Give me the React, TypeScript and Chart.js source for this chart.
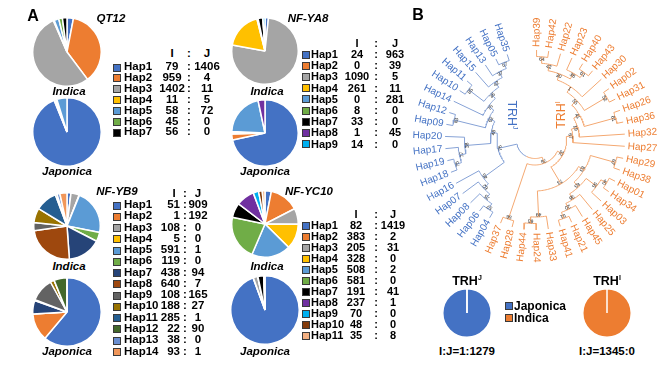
import React, { useEffect, useRef } from "react";
import { Chart, registerables } from "chart.js";
Chart.register(...registerables);

// ---------------- DATA ----------------
const officeColors = ["#4472C4", "#ED7D31", "#A5A5A5", "#FFC000", "#5B9BD5", "#70AD47"];

const qt12Haps = ["Hap1", "Hap2", "Hap3", "Hap4", "Hap5", "Hap6", "Hap7"];
const qt12Indica = [79, 959, 1402, 11, 58, 45, 56];
const qt12Japonica = [1406, 4, 11, 5, 72, 0, 0];
const qt12Colors = [...officeColors, "#000000"];

const ya8Haps = ["Hap1", "Hap2", "Hap3", "Hap4", "Hap5", "Hap6", "Hap7", "Hap8", "Hap9"];
const ya8Indica = [24, 0, 1090, 261, 0, 8, 33, 1, 14];
const ya8Japonica = [963, 39, 5, 11, 281, 0, 0, 45, 0];
const ya8Colors = [...officeColors, "#000000", "#7030A0", "#00B0F0"];

const yb9Haps = ["Hap1", "Hap2", "Hap3", "Hap4", "Hap5", "Hap6", "Hap7", "Hap8", "Hap9", "Hap10", "Hap11", "Hap12", "Hap13", "Hap14"];
const yb9Indica = [51, 1, 108, 5, 591, 119, 438, 640, 108, 188, 285, 22, 38, 93];
const yb9Japonica = [909, 192, 0, 0, 1, 0, 94, 7, 165, 27, 1, 90, 0, 1];
const yb9Colors = [...officeColors, "#264478", "#9E480E", "#636363", "#997300", "#255E91", "#43682B", "#698ED0", "#F1975A"];

const yc10Haps = ["Hap1", "Hap2", "Hap3", "Hap4", "Hap5", "Hap6", "Hap7", "Hap8", "Hap9", "Hap10", "Hap11"];
const yc10Indica = [82, 383, 205, 328, 508, 581, 191, 237, 70, 48, 35];
const yc10Japonica = [1419, 2, 31, 0, 2, 0, 41, 1, 0, 0, 8];
const yc10Colors = [...officeColors, "#000000", "#7030A0", "#00B0F0", "#843C0C", "#F4B183"];

const trhGroups = ["Japonica", "Indica"];
const trhColors = ["#4472C4", "#ED7D31"];
const trhJValues = [1279, 1];
const trhIValues = [0, 1345];

// phylogeny (clockwise leaf order), bootstrap values as node labels
const orangeNewick =
  "((((((((((Hap39,Hap42)64,Hap22)42,(Hap23,(Hap40,Hap43)61)38)30,Hap30)1,(Hap02,Hap31)52)55,(Hap26,Hap36)61)41,Hap32)19,Hap27)67," +
  "(((Hap29,Hap38)67,(((Hap01,Hap34)40,Hap03)55,(Hap25,(Hap45,(Hap21,Hap41)51)20)36)63)83,(Hap33,(Hap24,Hap44)63)49)73)32,(Hap28,Hap37)56)78";
const blueNewick =
  "(((((Hap04,Hap06)57,Hap08)75,Hap07)62,Hap16)45,((((Hap18,Hap19)75,Hap17)77,Hap20)38," +
  "((Hap09,Hap12)63,(Hap14,((Hap10,Hap11)85,(Hap15,(Hap13,(Hap05,Hap35)57)37)42)35)76)62)48)76";
const treeNewick = "(" + orangeNewick + "," + blueNewick + ");";
const blueLeaves = ["Hap04", "Hap06", "Hap08", "Hap07", "Hap16", "Hap18", "Hap19", "Hap17", "Hap20", "Hap09", "Hap12", "Hap14", "Hap10", "Hap11", "Hap15", "Hap13", "Hap05", "Hap35"];

// ---------------- STYLE ----------------
const FONT = '"Liberation Sans", Arial, sans-serif';
const BLUE_TXT = "#4472C4";
const ORANGE_TXT = "#ED7D31";
const BLUE_LINE = "#86A2D6";
const ORANGE_LINE = "#F4A871";

// ---------------- TREE ----------------
type TNode = { name: string; label: string; children: TNode[]; angle: number; r: number; h: number; blue: boolean };

function parseNewick(s: string): TNode {
  let i = 0;
  const parse = (): TNode => {
    const node: TNode = { name: "", label: "", children: [], angle: 0, r: 0, h: 0, blue: false };
    if (s[i] === "(") {
      i++;
      node.children.push(parse());
      while (s[i] === ",") {
        i++;
        node.children.push(parse());
      }
      i++;
    }
    let tok = "";
    while (i < s.length && !",();".includes(s[i])) tok += s[i++];
    if (node.children.length) node.label = tok;
    else node.name = tok;
    return node;
  };
  return parse();
}

const LEAF_R = 90;
const STEP_H = 6.5;
const START_DEG = -89;
const END_DEG = 252;

function layoutTree() {
  const root = parseNewick(treeNewick);
  const leaves: TNode[] = [];
  const collect = (n: TNode) => {
    if (!n.children.length) leaves.push(n);
    n.children.forEach(collect);
  };
  collect(root);
  const stepDeg = (END_DEG - START_DEG) / (leaves.length - 1);
  leaves.forEach((l, k) => {
    l.angle = ((START_DEG + k * stepDeg) * Math.PI) / 180;
    l.blue = blueLeaves.includes(l.name);
  });
  const post = (n: TNode) => {
    if (!n.children.length) {
      n.h = 0;
      return;
    }
    n.children.forEach(post);
    n.h = 1 + Math.max(...n.children.map((c) => c.h));
    n.angle = (n.children[0].angle + n.children[n.children.length - 1].angle) / 2;
    n.blue = n.children.every((c) => c.blue);
  };
  post(root);
  const setR = (n: TNode) => {
    n.r = LEAF_R - STEP_H * n.h;
    n.children.forEach(setR);
  };
  setR(root);
  const segments: { pts: { x: number; y: number }[]; blue: boolean }[] = [];
  const internals: TNode[] = [];
  const walk = (n: TNode) => {
    if (n.children.length && n.label) internals.push(n);
    for (const c of n.children) {
      const pts: { x: number; y: number }[] = [];
      const steps = Math.max(2, Math.ceil(Math.abs(c.angle - n.angle) / 0.03));
      for (let s = 0; s <= steps; s++) {
        const a = n.angle + ((c.angle - n.angle) * s) / steps;
        pts.push({ x: n.r * Math.cos(a), y: n.r * Math.sin(a) });
      }
      pts.push({ x: c.r * Math.cos(c.angle), y: c.r * Math.sin(c.angle) });
      segments.push({ pts, blue: c.blue });
      walk(c);
    }
  };
  walk(root);
  return { leaves, segments, internals };
}

function TreeChart() {
  const ref = useRef<HTMLCanvasElement>(null);
  useEffect(() => {
    const { leaves, segments, internals } = layoutTree();
    const plugin = {
      id: "treeText",
      afterDatasetsDraw(chart: any) {
        const ctx = chart.ctx;
        const xs = chart.scales.x;
        const ys = chart.scales.y;
        ctx.save();
        ctx.textBaseline = "middle";
        for (const l of leaves) {
          const rr = LEAF_R + 3;
          const px = xs.getPixelForValue(rr * Math.cos(l.angle));
          const py = ys.getPixelForValue(rr * Math.sin(l.angle));
          const right = Math.cos(l.angle) >= 0;
          ctx.save();
          ctx.translate(px, py);
          ctx.rotate(right ? l.angle : l.angle + Math.PI);
          ctx.textAlign = right ? "left" : "right";
          ctx.font = `10px ${FONT}`;
          ctx.fillStyle = l.blue ? BLUE_TXT : ORANGE_TXT;
          ctx.fillText(l.name, 0, 0);
          ctx.restore();
        }
        for (const n of internals) {
          const rr = n.r - 2.5;
          const px = xs.getPixelForValue(rr * Math.cos(n.angle));
          const py = ys.getPixelForValue(rr * Math.sin(n.angle));
          ctx.save();
          ctx.translate(px, py);
          ctx.rotate(n.angle + Math.PI / 2);
          ctx.textAlign = "center";
          ctx.font = `5px ${FONT}`;
          ctx.fillStyle = "#222";
          ctx.fillText(n.label, 0, 0);
          ctx.restore();
        }
        ctx.restore();
      },
    };
    const chart = new Chart(ref.current!, {
      type: "scatter",
      data: {
        datasets: segments.map((s) => ({
          data: s.pts,
          showLine: true,
          borderColor: s.blue ? BLUE_LINE : ORANGE_LINE,
          borderWidth: 1,
          pointRadius: 0,
          fill: false,
        })),
      },
      options: {
        responsive: false,
        animation: false,
        events: [],
        layout: { padding: 0 },
        plugins: { legend: { display: false }, tooltip: { enabled: false } },
        scales: {
          x: { type: "linear", min: -155, max: 125, display: false },
          y: { type: "linear", min: -140, max: 145, reverse: true, display: false },
        },
      },
      plugins: [plugin],
    } as any);
    return () => chart.destroy();
  }, []);
  return <canvas ref={ref} width={280} height={285} style={{ position: "absolute", left: 380, top: 0, width: 280, height: 285 }} />;
}

// ---------------- PIES ----------------
function Pie({ cx, cy, r, values, colors, labels }: { cx: number; cy: number; r: number; values: number[]; colors: string[]; labels: string[] }) {
  const ref = useRef<HTMLCanvasElement>(null);
  useEffect(() => {
    const chart = new Chart(ref.current!, {
      type: "pie",
      data: {
        labels,
        datasets: [{ data: values, backgroundColor: colors, borderColor: "#ffffff", borderWidth: 1.5, hoverOffset: 0 }],
      },
      options: {
        responsive: false,
        animation: false,
        events: [],
        layout: { padding: 0 },
        plugins: { legend: { display: false }, tooltip: { enabled: false } },
      },
    } as any);
    return () => chart.destroy();
  }, []);
  return <canvas ref={ref} width={2 * r} height={2 * r} style={{ position: "absolute", left: cx - r, top: cy - r, width: 2 * r, height: 2 * r }} />;
}

// ---------------- TEXT ----------------
function T({ x, y, children, align = "center", style = {} }: any) {
  const tx = align === "center" ? "-50%" : align === "right" ? "-100%" : "0";
  return (
    <div
      style={{
        position: "absolute",
        left: x,
        top: y,
        transform: `translate(${tx}, -50%)`,
        whiteSpace: "nowrap",
        lineHeight: 1,
        fontFamily: FONT,
        fontWeight: "bold",
        fontSize: 11.5,
        color: "#000",
        ...style,
      }}
    >
      {children}
    </div>
  );
}

function Legend({ haps, colors, I, J, sqX, hapX, iX, iAlign = "center", colonX, jX, headerY, y0, dy, fs = 11.5 }: any) {
  const st = { fontSize: fs };
  return (
    <>
      <T x={iX - (iAlign === "right" ? 6 : 0)} y={headerY} style={st}>I</T>
      <T x={colonX} y={headerY} style={st}>:</T>
      <T x={jX} y={headerY} style={st}>J</T>
      {haps.map((h: string, k: number) => {
        const y = y0 + k * dy;
        return (
          <React.Fragment key={h}>
            <div style={{ position: "absolute", left: sqX, top: y - 3.5, width: 6, height: 6, background: colors[k], border: "1px solid #3a3a3a" }} />
            <T x={hapX} y={y} align="left" style={st}>{h}</T>
            <T x={iX} y={y} align={iAlign} style={st}>{I[k]}</T>
            <T x={colonX} y={y} style={st}>:</T>
            <T x={jX} y={y} style={st}>{J[k]}</T>
          </React.Fragment>
        );
      })}
    </>
  );
}

const it = { fontStyle: "italic" };

export default function App() {
  return (
    <div style={{ position: "fixed", left: 0, top: 0, width: 660, height: 375, background: "#fff", overflow: "hidden" }}>
      {/* Panel A pies */}
      <Pie cx={67} cy={52} r={35} values={qt12Indica} colors={qt12Colors} labels={qt12Haps} />
      <Pie cx={67} cy={132} r={35} values={qt12Japonica} colors={qt12Colors} labels={qt12Haps} />
      <Pie cx={265} cy={51} r={34} values={ya8Indica} colors={ya8Colors} labels={ya8Haps} />
      <Pie cx={265} cy={133} r={34} values={ya8Japonica} colors={ya8Colors} labels={ya8Haps} />
      <Pie cx={67} cy={226} r={34} values={yb9Indica} colors={yb9Colors} labels={yb9Haps} />
      <Pie cx={67} cy={312} r={35} values={yb9Japonica} colors={yb9Colors} labels={yb9Haps} />
      <Pie cx={265} cy={224} r={34} values={yc10Indica} colors={yc10Colors} labels={yc10Haps} />
      <Pie cx={265} cy={310} r={35} values={yc10Japonica} colors={yc10Colors} labels={yc10Haps} />

      {/* Panel B */}
      <TreeChart />
      <Pie cx={467} cy={313} r={25} values={trhJValues} colors={trhColors} labels={trhGroups} />
      <Pie cx={607} cy={313} r={25} values={trhIValues} colors={trhColors} labels={trhGroups} />

      <T x={33} y={16} style={{ fontSize: 16 }}>A</T>
      <T x={418} y={15} style={{ fontSize: 16 }}>B</T>

      <T x={111} y={19} style={it}>QT12</T>
      <T x={69} y={92} style={it}>Indica</T>
      <T x={67} y={172} style={it}>Japonica</T>
      <Legend haps={qt12Haps} colors={qt12Colors} I={qt12Indica} J={qt12Japonica} sqX={113} hapX={124} iX={172} colonX={189} jX={207} headerY={54} y0={67} dy={10.9} />

      <T x={308} y={19} style={it}>NF-YA8</T>
      <T x={267} y={92} style={it}>Indica</T>
      <T x={265} y={172} style={it}>Japonica</T>
      <Legend haps={ya8Haps} colors={ya8Colors} I={ya8Indica} J={ya8Japonica} sqX={302} hapX={311} iX={357} colonX={376} jX={395} headerY={42.5} y0={54} dy={11.2} fs={11} />

      <T x={117} y={192} style={it}>NF-YB9</T>
      <T x={69} y={267} style={it}>Indica</T>
      <T x={67} y={352} style={it}>Japonica</T>
      <Legend haps={yb9Haps} colors={yb9Colors} I={yb9Indica} J={yb9Japonica} sqX={113} hapX={124} iX={180} iAlign="right" colonX={185} jX={198} headerY={194} y0={205} dy={11.27} />

      <T x={309} y={192} style={it}>NF-YC10</T>
      <T x={267} y={267} style={it}>Indica</T>
      <T x={265} y={352} style={it}>Japonica</T>
      <Legend haps={yc10Haps} colors={yc10Colors} I={yc10Indica} J={yc10Japonica} sqX={302} hapX={311} iX={356} colonX={376} jX={393} headerY={214} y0={225} dy={11} fs={11} />

      {/* tree clade labels */}
      <T x={512} y={115} style={{ fontWeight: "normal", fontSize: 12.5, color: BLUE_TXT, transform: "translate(-50%,-50%) rotate(90deg)" }}>
        TRH<sup style={{ fontSize: 7 }}>J</sup>
      </T>
      <T x={561} y={115} style={{ fontWeight: "normal", fontSize: 12.5, color: ORANGE_TXT, transform: "translate(-50%,-50%) rotate(-90deg)" }}>
        TRH<sup style={{ fontSize: 7 }}>I</sup>
      </T>

      {/* TRH pies text */}
      <T x={467} y={281} style={{ fontSize: 12.5 }}>
        TRH<sup style={{ fontSize: 7 }}>J</sup>
      </T>
      <T x={607} y={281} style={{ fontSize: 12.5 }}>
        TRH<sup style={{ fontSize: 7 }}>I</sup>
      </T>
      <T x={467} y={352}>I:J=1:1279</T>
      <T x={607} y={352}>I:J=1345:0</T>
      {trhGroups.map((g, k) => (
        <React.Fragment key={g}>
          <div style={{ position: "absolute", left: 505, top: 302 + k * 12, width: 6, height: 6, background: trhColors[k], border: "1px solid #3a3a3a" }} />
          <T x={514} y={306 + k * 12} align="left" style={{ fontSize: 12 }}>{g}</T>
        </React.Fragment>
      ))}
    </div>
  );
}
